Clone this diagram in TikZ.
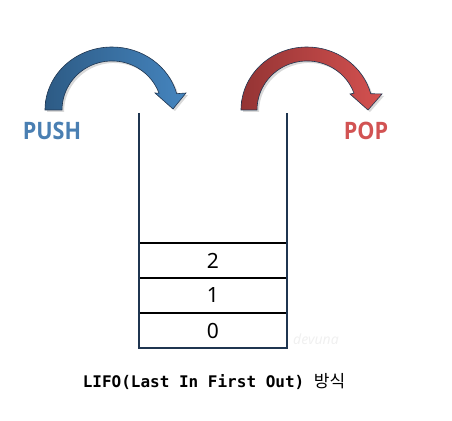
\documentclass[tikz,border=0pt]{standalone}
\usepackage{fontspec}
\setmainfont{Noto Sans}
\newfontfamily\monofont{DejaVu Sans Mono}
\newfontfamily\krfont{Noto Sans CJK KR}
\newfontfamily\labelfont{Open Sans}
\usetikzlibrary{positioning,shadows}

\definecolor{pushdark}{HTML}{2D5B85}
\definecolor{pushlight}{HTML}{4585BF}
\definecolor{pushtext}{HTML}{4A7FB2}
\definecolor{popdark}{HTML}{943434}
\definecolor{poplight}{HTML}{D45150}
\definecolor{poptext}{HTML}{D25353}
\definecolor{wallcolor}{HTML}{1F3550}

\begin{document}
\begin{tikzpicture}[x=1pt, y=1pt,
        cell/.style={draw=black, line width=1.6pt, minimum width=148pt,
            minimum height=35pt, inner sep=0pt, outer sep=0pt,
            font=\fontsize{21}{21}\selectfont},
        wall/.style={draw=wallcolor, line width=2.2pt},
        curved/.style={draw=wallcolor, line width=0.6pt,
            drop shadow={opacity=0.3, shadow xshift=2pt, shadow yshift=-2pt}},
        word/.style={font=\labelfont\bfseries\fontsize{24}{24}\selectfont, xscale=0.9}]
        \useasboundingbox (0,0) rectangle (452,420);

        % Push arrow
        \path[curved, left color=pushdark, right color=pushlight]
            (45,310) arc[start angle=180, end angle=15, x radius=67pt, y radius=63pt]
            -- (186,327) -- (173,311) -- (155,327)
            -- (159,326.8) arc[start angle=20, end angle=180, x radius=50pt, y radius=49pt]
            -- cycle;
        \node[word, text=pushtext] (push) at (52,289) {PUSH};

        % Pop arrow
        \path[curved, left color=popdark, right color=poplight]
            (241,310) arc[start angle=180, end angle=15, x radius=66pt, y radius=63pt]
            -- (382,326) -- (368,310) -- (350,326)
            -- (354,326.8) arc[start angle=20, end angle=180, x radius=50pt, y radius=49pt]
            -- cycle;
        \node[word, text=poptext] (pop) at (366,289) {POP};

        % Stack cells
        \node[cell] (cell0) at (213,89.5) {0};
        \node[cell, above=0pt of cell0] (cell1) {1};
        \node[cell, above=0pt of cell1] (cell2) {2};

        % Walls
        \coordinate (lefttop) at (139,307);
        \coordinate (righttop) at (287,307);
        \draw[wall] (lefttop) -- (cell0.south west) -- (cell0.south east) -- (righttop);

        % Watermark
        \node[text=gray!12, font=\itshape\fontsize{14}{14}\selectfont] (mark) at (316,81) {devuna};

        % Caption
        \node (caption) at (214,38) {{\fontsize{16}{16}\selectfont\monofont\bfseries LIFO(Last In First Out)\ }{\fontsize{17}{17}\selectfont\krfont 방식}};
    \end{tikzpicture}
\end{document}
